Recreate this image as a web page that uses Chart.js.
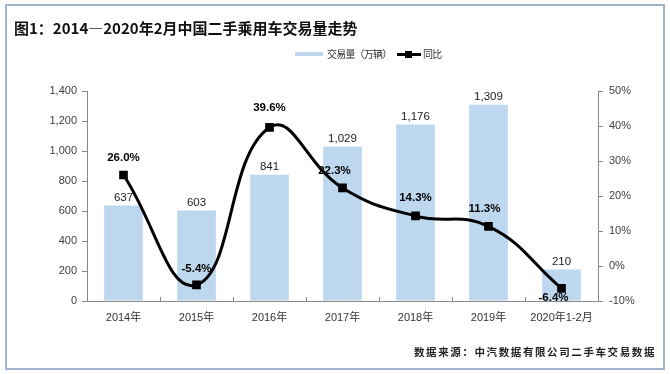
<!DOCTYPE html>
<html lang="zh">
  <head>
    <meta charset="UTF-8" />
    <script src="https://cdn.jsdelivr.net/npm/chart.js"></script>
    <style>
      body { margin: 0; background: #fff; }
      #wrap { position: relative; width: 670px; height: 374px; overflow: hidden; }
      #frame { position: absolute; left: 5px; top: 4px; width: 656px; height: 362px; border: 2px solid #9fb4cb; }
      #title { position: absolute; left: 14px; top: 17px; font: bold 15px "Noto Sans CJK SC", sans-serif; color: #111; white-space: nowrap; }
      .lg { position: absolute; font: 10px "Noto Sans CJK SC", sans-serif; color: #333; white-space: nowrap; letter-spacing: -0.8px; }
      #src { position: absolute; left: 414px; top: 344px; font: bold 10.5px "Noto Sans CJK SC", sans-serif; letter-spacing: 1.6px; color: #222; white-space: nowrap; }
      #chartBox { position: absolute; left: 0; top: 0; width: 670px; height: 374px; }
    </style>
  </head>
  <body>
    <div id="wrap">
      <div id="frame"></div>
      <div id="chartBox"><canvas id="myChart"></canvas></div>
      <div id="title">图1：2014—2020年2月中国二手乘用车交易量走势</div>
      <div style="position:absolute;left:295px;top:52px;width:28px;height:4px;background:#bdd7ee"></div>
      <div class="lg" style="left:327px;top:46px">交易量（万辆）</div>
      <div style="position:absolute;left:397px;top:53px;width:24px;height:3px;background:#000"></div>
      <div style="position:absolute;left:405px;top:51px;width:7px;height:7px;background:#000"></div>
      <div class="lg" style="left:423px;top:46px">同比</div>
      <div id="src">数据来源：中汽数据有限公司二手车交易数据</div>
    </div>

    <script>
      const categories = ["2014年", "2015年", "2016年", "2017年", "2018年", "2019年", "2020年1-2月"];
      const volume = [637, 603, 841, 1029, 1176, 1309, 210];
      const growth = [26.0, -5.4, 39.6, 22.3, 14.3, 11.3, -6.4];
      const leftTicks = [0, 200, 400, 600, 800, 1000, 1200, 1400];
      const rightTicks = [-10, 0, 10, 20, 30, 40, 50];

      // label offsets for the growth line, [dx, dy] from the point
      const growthLabelShift = [[0, -17], [0, -16], [0, -20], [-8, -17], [0, -18], [-4, -18], [-8, 9]];

      const axisFont = { family: "Liberation Sans, 'Noto Sans CJK SC'", size: 11 };

      const labelPlugin = {
        id: "valueLabels",
        afterDatasetsDraw(chart) {
          const c = chart.ctx;
          c.save();
          c.textAlign = "center";
          c.textBaseline = "middle";
          const bars = chart.getDatasetMeta(0).data;
          c.font = "11.5px 'Liberation Sans'";
          c.fillStyle = "#222";
          bars.forEach((b, i) => {
            c.fillText(volume[i].toLocaleString("en-US"), b.x, b.y - 8);
          });
          const pts = chart.getDatasetMeta(1).data;
          c.font = "bold 11.5px 'Liberation Sans'";
          c.fillStyle = "#000";
          pts.forEach((p, i) => {
            const s = growthLabelShift[i];
            c.fillText(growth[i].toFixed(1) + "%", p.x + s[0], p.y + s[1]);
          });
          c.restore();
        },
      };

      const myChart = new Chart(document.getElementById("myChart"), {
        data: {
          labels: categories,
          datasets: [
            {
              type: "bar",
              label: "交易量（万辆）",
              data: volume,
              backgroundColor: "#bdd7ee",
              barPercentage: 0.53,
              categoryPercentage: 1,
              yAxisID: "y",
              order: 2,
            },
            {
              type: "line",
              label: "同比",
              data: growth,
              borderColor: "#000",
              borderWidth: 3,
              tension: 0.45,
              pointStyle: "rect",
              pointRadius: 4,
              pointBackgroundColor: "#000",
              pointBorderColor: "#000",
              yAxisID: "y1",
              order: 1,
            },
          ],
        },
        options: {
          responsive: true,
          maintainAspectRatio: false,
          animation: false,
          layout: { padding: { top: 91, left: 0, right: 0, bottom: 0 } },
          plugins: { legend: { display: false }, tooltip: { enabled: false } },
          scales: {
            x: {
              grid: { display: true, drawOnChartArea: false, drawTicks: true, tickLength: -4, color: "#888", offset: true },
              border: { color: "#888" },
              ticks: { font: axisFont, color: "#333", padding: 14, maxRotation: 0 },
              afterFit: (s) => { s.height = 73; },
            },
            y: {
              position: "left",
              min: 0,
              max: 1400,
              afterBuildTicks: (s) => { s.ticks = leftTicks.map((v) => ({ value: v })); },
              grid: { drawOnChartArea: false, tickLength: 5, color: "#888" },
              border: { color: "#888" },
              ticks: { font: axisFont, color: "#404040", padding: 5, callback: (v) => v.toLocaleString("en-US") },
              afterFit: (s) => { s.width = 87; },
            },
            y1: {
              position: "right",
              min: -10,
              max: 50,
              afterBuildTicks: (s) => { s.ticks = rightTicks.map((v) => ({ value: v })); },
              grid: { drawOnChartArea: false, tickLength: 5, color: "#888" },
              border: { color: "#888" },
              ticks: { font: axisFont, color: "#404040", padding: 6, callback: (v) => v + "%" },
              afterFit: (s) => { s.width = 72; },
            },
          },
        },
        plugins: [labelPlugin],
      });
    </script>
  </body>
</html>
